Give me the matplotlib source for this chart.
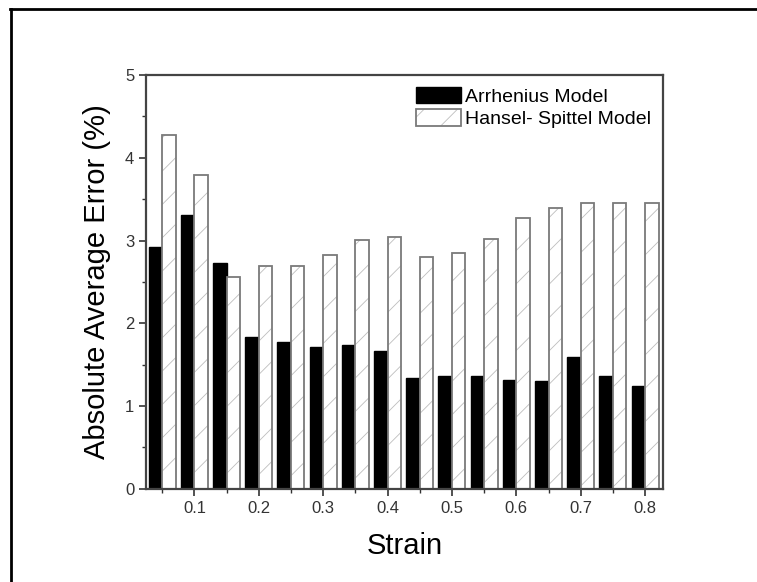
import matplotlib
matplotlib.use('Agg')
import numpy as np
import matplotlib.pyplot as plt
from matplotlib.lines import Line2D
from matplotlib.ticker import MultipleLocator

plt.rcParams['font.family'] = ['Liberation Sans', 'DejaVu Sans']
plt.rcParams['hatch.linewidth'] = 0.6

strain = [0.05, 0.10, 0.15, 0.20, 0.25, 0.30, 0.35, 0.40,
          0.45, 0.50, 0.55, 0.60, 0.65, 0.70, 0.75, 0.80]
arrhenius = [2.92, 3.31, 2.73, 1.83, 1.77, 1.71, 1.74, 1.66,
             1.34, 1.36, 1.36, 1.31, 1.30, 1.59, 1.36, 1.24]
hansel = [4.27, 3.79, 2.56, 2.69, 2.69, 2.82, 3.01, 3.04,
          2.80, 2.85, 3.02, 3.27, 3.39, 3.46, 3.45, 3.46]
xticks = [0.1, 0.2, 0.3, 0.4, 0.5, 0.6, 0.7, 0.8]

w = 0.021
x = np.array(strain)

fig = plt.figure(figsize=(7.57, 5.82), dpi=100)
ax = fig.add_axes([0.193, 0.160, 0.683, 0.711])

b1 = ax.bar(x - w, arrhenius, width=w, align='edge', color='black',
            edgecolor='black', linewidth=1.0)
# hatch in light grey, outline drawn on top in darker grey
b2h = ax.bar(x, hansel, width=w, align='edge', color='white',
             edgecolor='#bdbdbd', hatch='/', linewidth=0)
b2o = ax.bar(x, hansel, width=w, align='edge', fill=False,
             edgecolor='#7a7a7a', linewidth=1.3)

ax.set_xlim(0.025, 0.828)
ax.set_ylim(0, 5)
ax.set_xticks(xticks)
ax.set_xticklabels([str(t) for t in xticks])
ax.xaxis.set_minor_locator(MultipleLocator(0.05))
ax.yaxis.set_major_locator(MultipleLocator(1))
ax.yaxis.set_minor_locator(MultipleLocator(0.5))
ax.tick_params(which='major', direction='out', length=5, width=1.2,
               labelsize=12, colors='#333333')
ax.tick_params(which='minor', direction='out', length=3, width=1.0,
               colors='#333333')
for s in ax.spines.values():
    s.set_linewidth(1.6)
    s.set_color('#444444')

ax.set_xlabel('Strain', fontsize=21, labelpad=12)
ax.set_ylabel('Absolute Average Error (%)', fontsize=21, labelpad=10)

ax.legend([b1, (b2h, b2o)], ['Arrhenius Model', 'Hansel- Spittel Model'],
          loc='upper right', frameon=False, fontsize=14,
          handlelength=2.3, handleheight=0.9, handletextpad=0.25,
          labelspacing=0.2, borderaxespad=0.2)

# outer frame of the original image
fig.add_artist(Line2D([10 / 757, 1.0], [1 - 9 / 582, 1 - 9 / 582],
                      transform=fig.transFigure, color='black', lw=2))
fig.add_artist(Line2D([11 / 757, 11 / 757], [0.0, 1 - 9 / 582],
                      transform=fig.transFigure, color='black', lw=2))

fig.savefig('out.png', dpi=100)
